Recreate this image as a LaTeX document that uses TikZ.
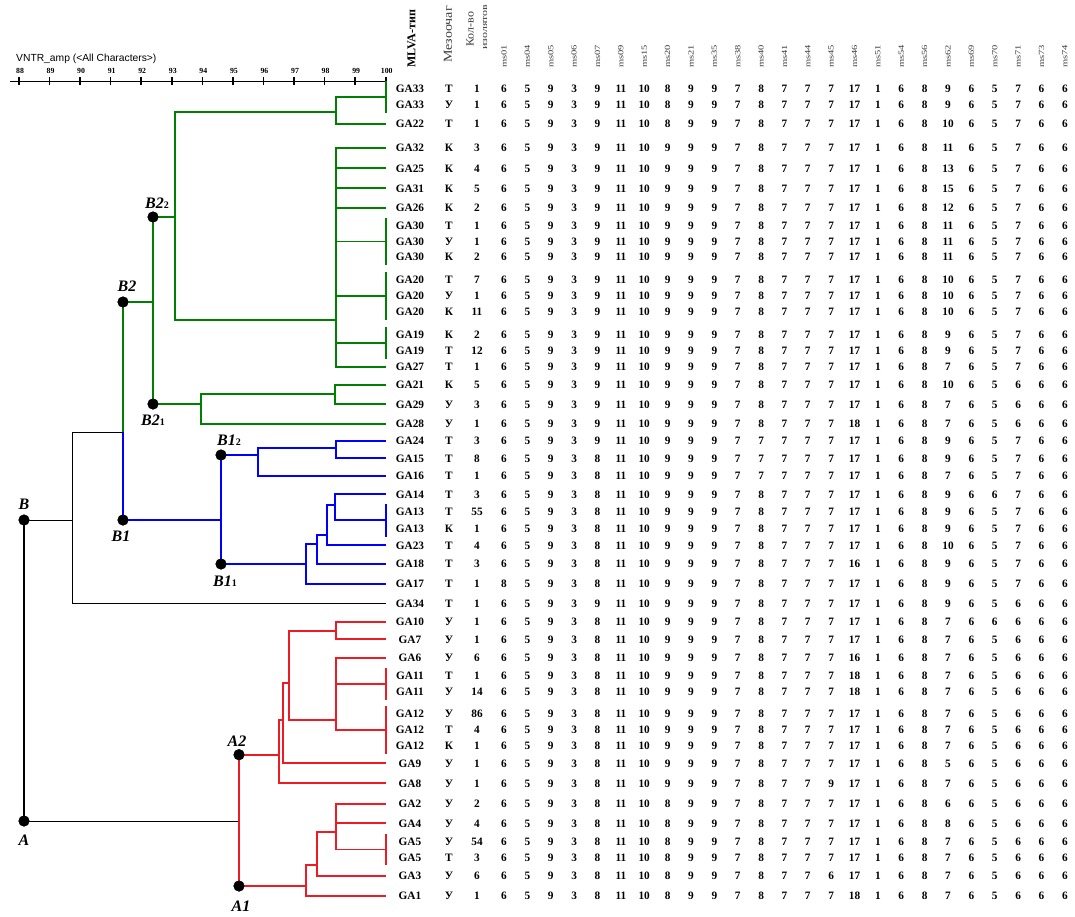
\documentclass[tikz,border=0pt]{standalone}
\usepackage{fontspec}
\setmainfont{Liberation Serif}
\newfontfamily\axsans{Liberation Sans}
\usetikzlibrary{calc}
\definecolor{dgreen}{RGB}{0,128,0}
\definecolor{dblue}{RGB}{0,0,255}
\definecolor{dred}{RGB}{237,28,36}
\definecolor{hdrgray}{RGB}{60,60,60}
\newcommand\subd[1]{\raisebox{-0.5pt}{\fontsize{10}{10}\selectfont\upshape\bfseries #1}}
\newcommand\tabrow[6]{%
  \coordinate (#2) at (386,#1);
  \node[cell] (#2l) at (410,#1) {#3};
  \node[cell] (#2m) at (449,#1) {#4};
  \node[cell] (#2c) at (477,#1) {#5};
  \foreach \v [count=\i] in {#6} {\node[cell] (#2v\i) at ({480.63+23.37*\i},#1) {\v};}
}
\begin{document}
\begin{tikzpicture}[x=1pt,y=-1pt,
  cell/.style={font=\fontsize{11.3}{12}\selectfont\bfseries,inner sep=0pt,text height=7.7pt,text depth=0pt,anchor=center},
  hdr/.style={font=\fontsize{10.5}{11}\selectfont,text=hdrgray,inner sep=0pt,rotate=90,yscale=0.75,anchor=west},
  gl/.style={line width=1.8pt,draw=dgreen},
  bl/.style={line width=1.8pt,draw=dblue},
  rl/.style={line width=1.8pt,draw=dred},
  kl/.style={line width=1pt,draw=black},
  grp/.style={line width=2.6pt},
  dot/.style={circle,fill=black,minimum size=11pt,inner sep=0pt},
  clab/.style={font=\fontsize{16}{16}\selectfont\bfseries\itshape,inner sep=0pt},
  ticklab/.style={font=\fontsize{7.8}{8}\selectfont\bfseries,inner sep=0pt}
]
\useasboundingbox (0,0) rectangle (1075,916);
\fill[white] (0,0) rectangle (1075,916);

% ---------- scale ----------
\node[font=\axsans\fontsize{10.3}{11}\selectfont,anchor=west,inner sep=0pt] (title) at (16,59) {VNTR\_amp (<All Characters>)};
\draw[line width=1pt] (10,81) -- (387,81);
\foreach \v in {88,...,100} {
  \draw[line width=1.6pt] ({19+(\v-88)*30.56},77) -- ++(0,8);
  \node[ticklab] (t\v) at ({20+(\v-88)*30.56},71) {\v};
}

% ---------- headers ----------
\node[inner sep=0pt,rotate=90,anchor=west,font=\fontsize{12}{12}\selectfont\bfseries] (hmlva) at (411.5,68) {MLVA-тип};
\node[inner sep=0pt,rotate=90,yscale=0.87,anchor=west,text=hdrgray,font=\fontsize{14}{14}\selectfont] (hmez) at (448,63) {Мезоочаг};
\node[inner sep=0pt,rotate=90,yscale=0.92,anchor=west,text=hdrgray,font=\fontsize{12}{12}\selectfont] (hkol) at (470,47) {Кол-во};
\node[inner sep=0pt,rotate=90,yscale=0.72,anchor=west,text=hdrgray,font=\fontsize{12}{12}\selectfont] (hiz) at (485,50) {изолятов};
\foreach \h [count=\i] in {ms01,ms04,ms05,ms06,ms07,ms09,ms15,ms20,ms21,ms35,ms38,ms40,ms41,ms44,ms45,ms46,ms51,ms54,ms56,ms62,ms69,ms70,ms71,ms73,ms74}
  \node[hdr] (h\i) at ({480.63+23.37*\i},68) {\h};

% ---------- table rows ----------
\tabrow{89}{r1}{GA33}{Т}{1}{6,5,9,3,9,11,10,8,9,9,7,8,7,7,7,17,1,6,8,9,6,5,7,6,6}
\tabrow{105}{r2}{GA33}{У}{1}{6,5,9,3,9,11,10,8,9,9,7,8,7,7,7,17,1,6,8,9,6,5,7,6,6}
\tabrow{124}{r3}{GA22}{Т}{1}{6,5,9,3,9,11,10,8,9,9,7,8,7,7,7,17,1,6,8,10,6,5,7,6,6}
\tabrow{147.7}{r4}{GA32}{К}{3}{6,5,9,3,9,11,10,9,9,9,7,8,7,7,7,17,1,6,8,11,6,5,7,6,6}
\tabrow{168.3}{r5}{GA25}{К}{4}{6,5,9,3,9,11,10,9,9,9,7,8,7,7,7,17,1,6,8,13,6,5,7,6,6}
\tabrow{188.3}{r6}{GA31}{К}{5}{6,5,9,3,9,11,10,9,9,9,7,8,7,7,7,17,1,6,8,15,6,5,7,6,6}
\tabrow{207.7}{r7}{GA26}{К}{2}{6,5,9,3,9,11,10,9,9,9,7,8,7,7,7,17,1,6,8,12,6,5,7,6,6}
\tabrow{225.7}{r8}{GA30}{Т}{1}{6,5,9,3,9,11,10,9,9,9,7,8,7,7,7,17,1,6,8,11,6,5,7,6,6}
\tabrow{241.7}{r9}{GA30}{У}{1}{6,5,9,3,9,11,10,9,9,9,7,8,7,7,7,17,1,6,8,11,6,5,7,6,6}
\tabrow{257}{r10}{GA30}{К}{2}{6,5,9,3,9,11,10,9,9,9,7,8,7,7,7,17,1,6,8,11,6,5,7,6,6}
\tabrow{280}{r11}{GA20}{Т}{7}{6,5,9,3,9,11,10,9,9,9,7,8,7,7,7,17,1,6,8,10,6,5,7,6,6}
\tabrow{295.7}{r12}{GA20}{У}{1}{6,5,9,3,9,11,10,9,9,9,7,8,7,7,7,17,1,6,8,10,6,5,7,6,6}
\tabrow{312}{r13}{GA20}{К}{11}{6,5,9,3,9,11,10,9,9,9,7,8,7,7,7,17,1,6,8,10,6,5,7,6,6}
\tabrow{335}{r14}{GA19}{К}{2}{6,5,9,3,9,11,10,9,9,9,7,8,7,7,7,17,1,6,8,9,6,5,7,6,6}
\tabrow{350.7}{r15}{GA19}{Т}{12}{6,5,9,3,9,11,10,9,9,9,7,8,7,7,7,17,1,6,8,9,6,5,7,6,6}
\tabrow{366.7}{r16}{GA27}{Т}{1}{6,5,9,3,9,11,10,9,9,9,7,8,7,7,7,17,1,6,8,7,6,5,7,6,6}
\tabrow{385}{r17}{GA21}{К}{5}{6,5,9,3,9,11,10,9,9,9,7,8,7,7,7,17,1,6,8,10,6,5,6,6,6}
\tabrow{404.3}{r18}{GA29}{У}{3}{6,5,9,3,9,11,10,9,9,9,7,8,7,7,7,17,1,6,8,7,6,5,6,6,6}
\tabrow{423.7}{r19}{GA28}{У}{1}{6,5,9,3,9,11,10,9,9,9,7,8,7,7,7,18,1,6,8,7,6,5,6,6,6}
\tabrow{440.7}{r20}{GA24}{Т}{3}{6,5,9,3,9,11,10,9,9,9,7,7,7,7,7,17,1,6,8,9,6,5,7,6,6}
\tabrow{458.3}{r21}{GA15}{Т}{8}{6,5,9,3,8,11,10,9,9,9,7,7,7,7,7,17,1,6,8,9,6,5,7,6,6}
\tabrow{475.7}{r22}{GA16}{Т}{1}{6,5,9,3,8,11,10,9,9,9,7,7,7,7,7,17,1,6,8,7,6,5,7,6,6}
\tabrow{494.3}{r23}{GA14}{Т}{3}{6,5,9,3,8,11,10,9,9,9,7,8,7,7,7,17,1,6,8,9,6,6,7,6,6}
\tabrow{512}{r24}{GA13}{Т}{55}{6,5,9,3,8,11,10,9,9,9,7,8,7,7,7,17,1,6,8,9,6,5,7,6,6}
\tabrow{528.7}{r25}{GA13}{К}{1}{6,5,9,3,8,11,10,9,9,9,7,8,7,7,7,17,1,6,8,9,6,5,7,6,6}
\tabrow{545.3}{r26}{GA23}{Т}{4}{6,5,9,3,8,11,10,9,9,9,7,8,7,7,7,17,1,6,8,10,6,5,7,6,6}
\tabrow{563.7}{r27}{GA18}{Т}{3}{6,5,9,3,8,11,10,9,9,9,7,8,7,7,7,16,1,6,8,9,6,5,7,6,6}
\tabrow{583.7}{r28}{GA17}{Т}{1}{8,5,9,3,8,11,10,9,9,9,7,8,7,7,7,17,1,6,8,9,6,5,7,6,6}
\tabrow{603.3}{r29}{GA34}{Т}{1}{6,5,9,3,9,11,10,9,9,9,7,8,7,7,7,17,1,6,8,9,6,5,6,6,6}
\tabrow{622}{r30}{GA10}{У}{1}{6,5,9,3,8,11,10,9,9,9,7,8,7,7,7,17,1,6,8,7,6,6,6,6,6}
\tabrow{639.3}{r31}{GA7}{У}{1}{6,5,9,3,8,11,10,9,9,9,7,8,7,7,7,17,1,6,8,7,6,5,6,6,6}
\tabrow{657.7}{r32}{GA6}{У}{6}{6,5,9,3,8,11,10,9,9,9,7,8,7,7,7,16,1,6,8,7,6,5,6,6,6}
\tabrow{675.7}{r33}{GA11}{Т}{1}{6,5,9,3,8,11,10,9,9,9,7,8,7,7,7,18,1,6,8,7,6,5,6,6,6}
\tabrow{691.7}{r34}{GA11}{У}{14}{6,5,9,3,8,11,10,9,9,9,7,8,7,7,7,18,1,6,8,7,6,5,6,6,6}
\tabrow{713.7}{r35}{GA12}{У}{86}{6,5,9,3,8,11,10,9,9,9,7,8,7,7,7,17,1,6,8,7,6,5,6,6,6}
\tabrow{730}{r36}{GA12}{Т}{4}{6,5,9,3,8,11,10,9,9,9,7,8,7,7,7,17,1,6,8,7,6,5,6,6,6}
\tabrow{746}{r37}{GA12}{К}{1}{6,5,9,3,8,11,10,9,9,9,7,8,7,7,7,17,1,6,8,7,6,5,6,6,6}
\tabrow{763.3}{r38}{GA9}{У}{1}{6,5,9,3,8,11,10,9,9,9,7,8,7,7,7,17,1,6,8,5,6,5,6,6,6}
\tabrow{783.3}{r39}{GA8}{У}{1}{6,5,9,3,8,11,10,9,9,9,7,8,7,7,9,17,1,6,8,7,6,5,6,6,6}
\tabrow{803.7}{r40}{GA2}{У}{2}{6,5,9,3,8,11,10,8,9,9,7,8,7,7,7,17,1,6,8,6,6,5,6,6,6}
\tabrow{823.3}{r41}{GA4}{У}{4}{6,5,9,3,8,11,10,8,9,9,7,8,7,7,7,17,1,6,8,8,6,5,6,6,6}
\tabrow{841.7}{r42}{GA5}{У}{54}{6,5,9,3,8,11,10,8,9,9,7,8,7,7,7,17,1,6,8,7,6,5,6,6,6}
\tabrow{857.3}{r43}{GA5}{Т}{3}{6,5,9,3,8,11,10,8,9,9,7,8,7,7,7,17,1,6,8,7,6,5,6,6,6}
\tabrow{876}{r44}{GA3}{У}{6}{6,5,9,3,8,11,10,8,9,9,7,8,7,7,6,17,1,6,8,7,6,5,6,6,6}
\tabrow{896}{r45}{GA1}{У}{1}{6,5,9,3,8,11,10,8,9,9,7,8,7,7,7,18,1,6,8,7,6,5,6,6,6}

% ---------- group (identical) verticals ----------
\coordinate (g33) at (386,97);
\coordinate (g30) at (386,241.5);
\coordinate (g20) at (386,296);
\coordinate (g19) at (386,343);
\coordinate (g13) at (386,520);
\coordinate (g11) at (386,683.7);
\coordinate (g12) at (386,730);
\coordinate (g5) at (386,849.5);
\draw[gl,grp] (386,81) -- ($(r2)+(0,8)$);
\draw[gl,grp] ($(r8)+(0,-8)$) -- ($(r10)+(0,8)$);
\draw[gl,grp] ($(r11)+(0,-8)$) -- ($(r13)+(0,8)$);
\draw[gl,grp] ($(r14)+(0,-8)$) -- ($(r15)+(0,8)$);
\draw[bl,grp] ($(r24)+(0,-8)$) -- ($(r25)+(0,8)$);
\draw[rl,grp] ($(r33)+(0,-8)$) -- ($(r34)+(0,8)$);
\draw[rl,grp] ($(r35)+(0,-8)$) -- ($(r37)+(0,8)$);
\draw[rl,grp] ($(r42)+(0,-8)$) -- ($(r43)+(0,8)$);

% ---------- junctions ----------
\coordinate (j1) at (336,112);
\coordinate (j2) at (336,320);
\coordinate (j3) at (175,217);
\coordinate (j4) at (335,394);
\coordinate (j5) at (200.7,404);
\coordinate (jB) at (123,432);
\coordinate (jR) at (72.7,520);
\coordinate (j7) at (336,448);
\coordinate (j8) at (258,455);
\coordinate (j9) at (335,505);
\coordinate (j10) at (326.7,535);
\coordinate (j11) at (317.3,544);
\coordinate (j12) at (305.7,564);
\coordinate (j13) at (336,631);
\coordinate (j14) at (336,720);
\coordinate (j15) at (289,683);
\coordinate (j16) at (283.3,720);
\coordinate (j17) at (279.3,754.7);
\coordinate (jA) at (239,821);
\coordinate (j18) at (336,832);
\coordinate (j19) at (317.3,865);
\coordinate (j20) at (305.7,886);

% ---------- cluster dots ----------
\node[dot] (B22) at (153,217) {};
\node[dot] (B21) at (153,404) {};
\node[dot] (B2) at (123,302) {};
\node[dot] (B1) at (123,520) {};
\node[dot] (B12) at (221,455) {};
\node[dot] (B11) at (221,564) {};
\node[dot] (B) at (24,520) {};
\node[dot] (A) at (24,821) {};
\node[dot] (A2) at (239,754.7) {};
\node[dot] (A1) at (239,886) {};

% ---------- green ----------
\draw[gl] (g33) -| (j1) |- (r3);
\draw[gl] (r4) -| (j2) |- (r16);
\foreach \c in {r5,r6,r7,g30,g20,g19} \draw[gl] (\c) -- (\c -| j2);
\draw[gl] (j1) -| (j3) |- (j2);
\draw[gl] (B22.center) -- (j3);
\draw[gl] (r17) -| (j4) |- (r18);
\draw[gl] (j4) -| (j5) |- (r19);
\draw[gl] (B21.center) -- (j5);
\draw[gl] (B22.center) -- (B21.center);
\draw[gl] (B2.center) -- (B2 -| B22);
\draw[gl] (B2.center) -- (jB);

% ---------- blue ----------
\draw[bl] (jB) -- (B1.center);
\draw[bl] (B1.center) -- (B1 -| B12);
\draw[bl] (B12.center) -- (B11.center);
\draw[bl] (r20) -| (j7) |- (r21);
\draw[bl] (j7) -| (j8) |- (r22);
\draw[bl] (B12.center) -- (j8);
\draw[bl] (r23) -| (j9) |- (g13);
\draw[bl] (j9) -| (j10) |- (r26);
\draw[bl] (j10) -| (j11) |- (r27);
\draw[bl] (j11) -| (j12) |- (r28);
\draw[bl] (B11.center) -- (j12);

% ---------- black ----------
\draw[kl] (jB) -| (jR) |- (r29);
\draw[kl] (B.center) -- (jR);
\draw[kl,line width=1.4pt] (B.center) -- (A.center);
\draw[kl] (A.center) -- (jA);

% ---------- red ----------
\draw[rl] (A2.center) -- (A1.center);
\draw[rl] (r30) -| (j13) |- (r31);
\draw[rl] (r32) -| (j14) |- (g12);
\draw[rl] (g11) -- (g11 -| j14);
\draw[rl] (j13) -| (j15) |- (j14);
\draw[rl] (j15) -| (j16) |- (r38);
\draw[rl] (j16) -| (j17) |- (r39);
\draw[rl] (A2.center) -- (j17);
\draw[rl] (r40) -| (j18) |- (g5);
\draw[rl] (r41) -- (r41 -| j18);
\draw[rl] (j18) -| (j19) |- (r44);
\draw[rl] (j19) -| (j20) |- (r45);
\draw[rl] (A1.center) -- (j20);

% redraw dots on top
\foreach \d in {B22,B21,B2,B1,B12,B11,B,A,A2,A1} \fill (\d) circle (5.5pt);

% ---------- cluster labels ----------
\node[clab] (lB22) at (157,203) {B2\subd{2}};
\node[clab] (lB2) at (127,286) {B2};
\node[clab] (lB21) at (153,420) {B2\subd{1}};
\node[clab] (lB12) at (229,440) {B1\subd{2}};
\node[clab] (lB1) at (121,536) {B1};
\node[clab] (lB11) at (225,581) {B1\subd{1}};
\node[clab] (lB) at (24,504) {B};
\node[clab] (lA) at (24,840) {A};
\node[clab] (lA2) at (237,741) {A2};
\node[clab] (lA1) at (241,906) {A1};
\end{tikzpicture}
\end{document}
